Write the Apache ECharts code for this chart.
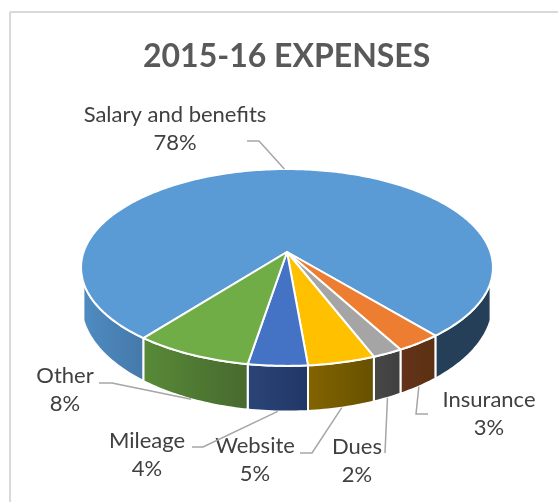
<!DOCTYPE html>
<html>
<head>
<meta charset="utf-8">
<style>
html, body { margin: 0; padding: 0; background: #fff; }
#main { width: 558px; height: 502px; }
</style>
<script src="https://cdn.jsdelivr.net/npm/echarts@6/dist/echarts.min.js"></script>
</head>
<body>
<div id="main"></div>
<script>
// data (labels are rounded in the original)
const categories = ["Salary and benefits", "Insurance", "Dues", "Website", "Mileage", "Other"];
const expenses = [78.3, 3.1, 2.05, 4.55, 4.0, 8.0];

const topColors = ["#5b9bd5", "#ed7d31", "#a5a5a5", "#ffc000", "#4472c4", "#70ad47"];
// one [left, right] gradient per visible piece of wall
const wallColors = [
    [["#4f8bc2", "#4579a9"], ["#243f57", "#243f57"]],
    [["#63331a", "#5c3012"]],
    [["#484848", "#3f3f3f"]],
    [["#846400", "#665000"]],
    [["#2a4577", "#213766"]],
    [["#588a38", "#47692e"]],
];

// label centre and the elbow of each leader line
const labelPos = [[175, 129], [489, 414], [357, 461], [255, 460], [147, 455], [65, 390]];
const leaderStart = [[247, 141], [428, 414], [385, 453], [300, 453], [192, 447], [99, 383]];
const leaderElbow = [[259, 141], [416, 414], [385, 453], [312, 453], [203, 447], [112, 383]];

// the pie is a disc seen in perspective: angle -> page position
const startAngle = 218.2;
const persp = 0.157;
const cx = 287;
const halfWidth = 203.4;
const topDisc = { y0: 252, b: 96 };
const bottomDisc = { y0: 287, b: 105 };
const wallFrom = 107.5, wallTo = 252.5; // front of the pie, clockwise from top

function project(angle, disc) {
    const a = angle * Math.PI / 180;
    const X = Math.sin(a), Y = -Math.cos(a);
    const w = 1 - persp * Y;
    return [cx + halfWidth * X / w, disc.y0 + disc.b * Y / w];
}

function arc(from, to, disc) {
    const pts = [];
    const n = Math.max(2, Math.ceil(Math.abs(to - from)));
    for (let i = 0; i <= n; i++) {
        pts.push(project(from + (to - from) * i / n, disc));
    }
    return pts;
}

const total = expenses.reduce((a, b) => a + b, 0);
let running = startAngle;
const sliceRows = expenses.map((v) => {
    const row = [running, running + v / total * 360];
    running = row[1];
    return row;
});

function renderTop(params, api) {
    const from = api.value(0), to = api.value(1);
    return {
        type: "polygon",
        shape: { points: [[cx, topDisc.y0]].concat(arc(from, to, topDisc)) },
        style: { fill: topColors[params.dataIndex], stroke: "#fff", lineWidth: 2, lineJoin: "round" },
    };
}

function renderWall(params, api) {
    const from = api.value(0), to = api.value(1);
    const pieces = [];
    [0, 360].forEach((shift) => {
        const a = Math.max(from, wallFrom + shift), b = Math.min(to, wallTo + shift);
        if (b > a) pieces.push([a, b]);
    });
    return {
        type: "group",
        children: pieces.map((p, i) => {
            const c = wallColors[params.dataIndex][i];
            return {
                type: "polygon",
                shape: { points: arc(p[0], p[1], topDisc).concat(arc(p[1], p[0], bottomDisc)) },
                style: {
                    fill: new echarts.graphic.LinearGradient(0, 0, 1, 0, [
                        { offset: 0, color: c[0] },
                        { offset: 1, color: c[1] },
                    ]),
                    stroke: "#fff",
                    lineWidth: 2,
                },
            };
        }),
    };
}

function renderLabel(params, api) {
    const i = params.dataIndex;
    const mid = (api.value(0) + api.value(1)) / 2;
    // the big slice points at the back rim, the others at the bottom of the wall
    const end = project(mid, i === 0 ? topDisc : bottomDisc);
    return {
        type: "group",
        children: [
            {
                type: "polyline",
                shape: { points: [leaderStart[i], leaderElbow[i], end] },
                style: { fill: "none", stroke: "#a6a6a6", lineWidth: 1.5 },
            },
            {
                type: "text",
                x: labelPos[i][0],
                y: labelPos[i][1],
                style: {
                    text: categories[i] + "\n" + Math.round(expenses[i] / total * 100) + "%",
                    fill: "#404040",
                    font: "22px Lato",
                    lineHeight: 28,
                    align: "center",
                    verticalAlign: "middle",
                },
            },
        ],
    };
}

const chart = echarts.init(document.getElementById("main"), null, { renderer: "canvas" });

const option = {
    animation: false,
    backgroundColor: "#fff",
    title: {
        text: "2015-16 EXPENSES",
        left: 138,
        top: 36,
        textStyle: { color: "#595959", fontFamily: "Lato", fontWeight: "bold", fontSize: 32 },
    },
    graphic: [
        { type: "line", shape: { x1: 10, y1: 12, x2: 10, y2: 502 }, style: { stroke: "#d9d9d9", lineWidth: 2 } },
        { type: "line", shape: { x1: 10, y1: 12, x2: 558, y2: 12 }, style: { stroke: "#d9d9d9", lineWidth: 2 } },
    ],
    series: [
        { type: "custom", coordinateSystem: "none", silent: true, z: 1, renderItem: renderWall, data: sliceRows },
        { type: "custom", coordinateSystem: "none", silent: true, z: 2, renderItem: renderTop, data: sliceRows },
        { type: "custom", coordinateSystem: "none", silent: true, z: 3, renderItem: renderLabel, data: sliceRows },
    ],
};

chart.setOption(option);
window.addEventListener("resize", chart.resize);
</script>
</body>
</html>
